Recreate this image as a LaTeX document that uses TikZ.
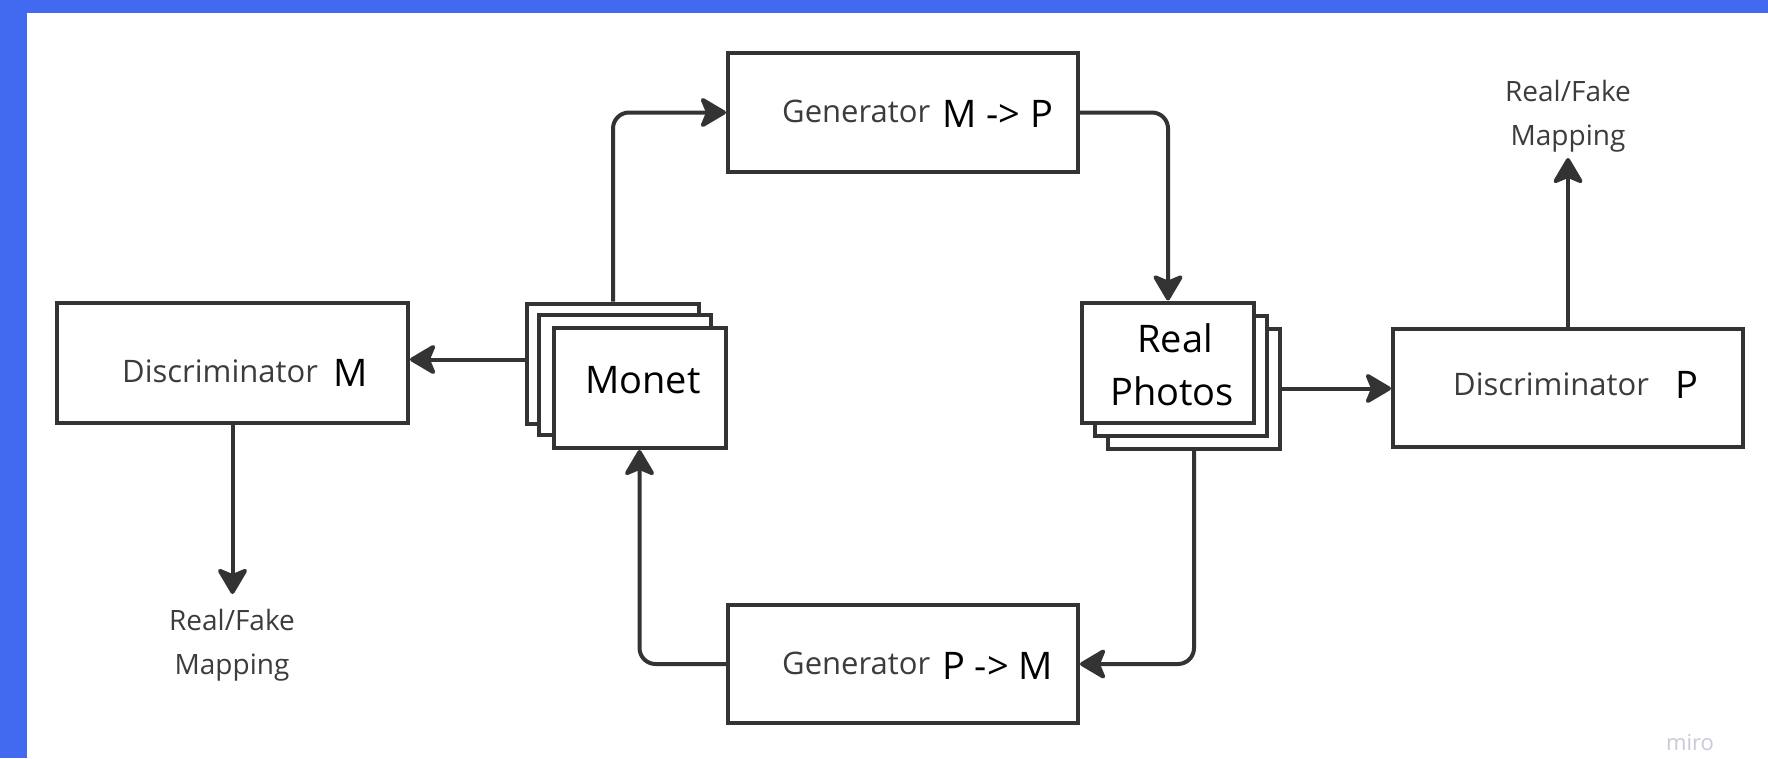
\documentclass[tikz,border=0pt]{standalone}
\usepackage{fontspec}
\setmainfont{Open Sans}
\usetikzlibrary{arrows.meta}
\definecolor{frameblue}{HTML}{426AF0}
\definecolor{linegray}{HTML}{333333}
\definecolor{labelgray}{HTML}{3C3C3C}
\definecolor{mirogray}{HTML}{C9C9D9}
\tikzset{
  box/.style={draw=linegray, line width=4pt, fill=white, inner sep=0pt},
  card/.style={draw=linegray, line width=4pt, fill=white, inner sep=0pt, minimum width=172pt, minimum height=120pt},
  conn/.style={draw=linegray, line width=4pt, rounded corners=16pt, -{Stealth[length=29pt,width=34pt,inset=7pt,round]}},
  glabel/.style={inner sep=0pt, anchor=base west, text=labelgray, font=\fontsize{31}{37}\selectfont},
  blabel/.style={inner sep=0pt, anchor=base west, text=black, font=\fontsize{38}{44}\selectfont},
  rflabel/.style={inner sep=0pt, anchor=base, text=labelgray, font=\fontsize{28}{34}\selectfont}
}
\begin{document}
\begin{tikzpicture}[x=1pt,y=-1pt]
\useasboundingbox (0,0) rectangle (1768,758);
\fill[white] (0,0) rectangle (1768,758);
\fill[frameblue] (0,0) rectangle (1768,13);
\fill[frameblue] (0,0) rectangle (27,758);

% boxes
\node[box, minimum width=351pt, minimum height=120pt] (dm) at (232.5,363) {};
\node[box, minimum width=350pt, minimum height=119pt] (gmp) at (903,112.5) {};
\node[box, minimum width=350pt, minimum height=118pt] (dp) at (1568,388) {};
\node[box, minimum width=350pt, minimum height=118pt] (gpm) at (903,664) {};

% Monet stack
\node[card] (monetA) at (613,363.5) {};
\node[card] (monetB) at (625,374.5) {};
\node[card] (monet) at (639.5,388) {};

% Real Photos stack
\node[card] (photosC) at (1194,388.5) {};
\node[card] (photosB) at (1181,375.5) {};
\node[card] (photos) at (1168,362.5) {};

% labels
\node[glabel] (dmt) at (122,382) {Discriminator};
\node[blabel] (dmm) at (333,386) {M};
\node[glabel] (gmpt) at (782,122) {Generator};
\node[blabel] (gmpm) at (942,127) {M -> P};
\node[glabel] (dpt) at (1453,395) {Discriminator};
\node[blabel] (dpp) at (1675,398) {P};
\node[glabel] (gpmt) at (782,674) {Generator};
\node[blabel] (gpmm) at (942,679) {P -> M};
\node[blabel] (monett) at (585,393) {Monet};
\node[blabel] (photos1) at (1137,352) {Real};
\node[blabel] (photos2) at (1110,405) {Photos};

\node[rflabel] (rf1) at (1568,101) {Real/Fake};
\node[rflabel] (rf2) at (1568,145) {Mapping};
\node[rflabel] (rf3) at (232,630) {Real/Fake};
\node[rflabel] (rf4) at (232,674) {Mapping};

\node[inner sep=0pt, text=mirogray, font=\fontsize{22}{26}\selectfont] (miro) at (1690,743) {miro};

% connectors
\coordinate (dpTip) at (1568,158);
\coordinate (dmTip) at (232.5,594);
\draw[conn] (monetA.north) |- (gmp.west);
\draw[conn] (gmp.east) -| (photos.north);
\draw[conn] (photosC.east) -- (photosC.east -| dp.west);
\draw[conn] (dp.north) -- (dpTip);
\draw[conn] (photosC.south) |- (gpm.east);
\draw[conn] (gpm.west) -| (monet.south);
\draw[conn] ([yshift=4pt]monetA.west) -- ([yshift=4pt]monetA.west -| dm.east);
\draw[conn] (dm.south) -- (dmTip);
\end{tikzpicture}
\end{document}
